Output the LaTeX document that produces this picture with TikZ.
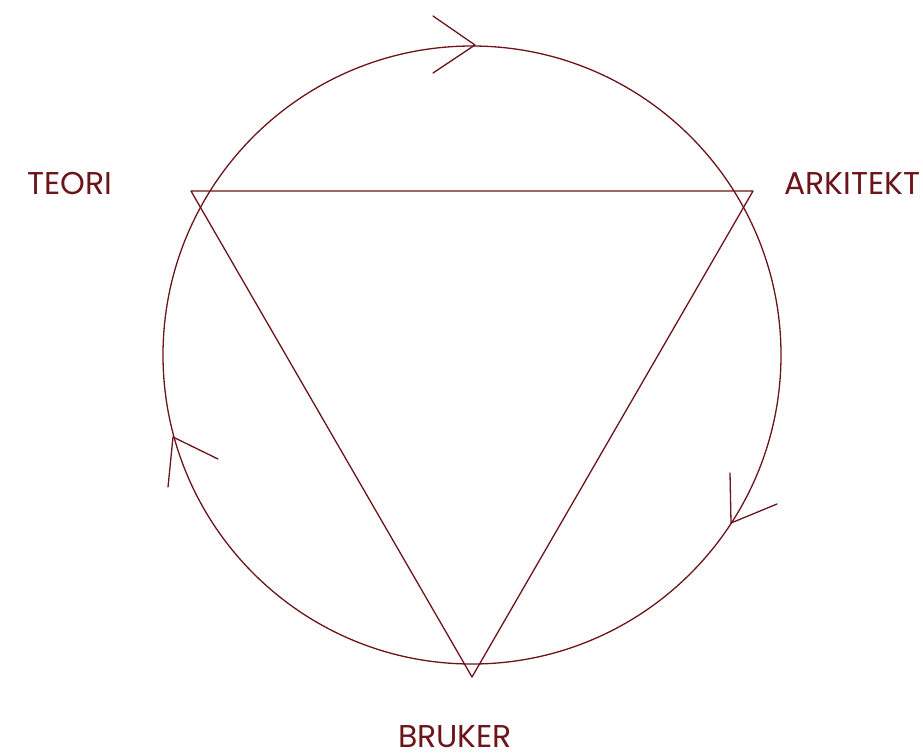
\documentclass[tikz,border=0pt]{standalone}
\usepackage{fontspec}
\setmainfont{Poppins}
\definecolor{dred}{HTML}{6B1419}
\begin{document}
\begin{tikzpicture}[x=1pt,y=-1pt,
  ln/.style={draw=dred,line width=1.3pt,line cap=round,line join=round},
  lbl/.style={text=dred,font=\fontsize{31.5}{36}\selectfont,inner sep=0pt,text depth=0pt,anchor=base west}]
\useasboundingbox (0,0) rectangle (923,753);
% circle
\node[ln,circle,minimum size=618pt,inner sep=0pt] (c) at (472,355) {};
% triangle
\coordinate (tl) at (191,191);
\coordinate (tr) at (753,191);
\coordinate (b) at (472,677);
\draw[ln] (tl) -- (tr) -- (b) -- cycle;
% arrows
\coordinate (a1) at (475,45);
\coordinate (a1u) at (433,16);
\coordinate (a1d) at (433,73);
\draw[ln] (a1u) -- (a1) -- (a1d);
\coordinate (a2) at (173,437);
\coordinate (a2l) at (168,487);
\coordinate (a2r) at (218,459);
\draw[ln] (a2l) -- (a2) -- (a2r);
\coordinate (a3) at (731,523);
\coordinate (a3u) at (730,473);
\coordinate (a3r) at (777,504);
\draw[ln] (a3u) -- (a3) -- (a3r);
% labels
\node[lbl] (teori) at (27,194) {TEORI};
\node[lbl] (ark) at (784,194) {ARKITEKT};
\node[lbl] (bru) at (398,747) {BRUKER};
\end{tikzpicture}
\end{document}
